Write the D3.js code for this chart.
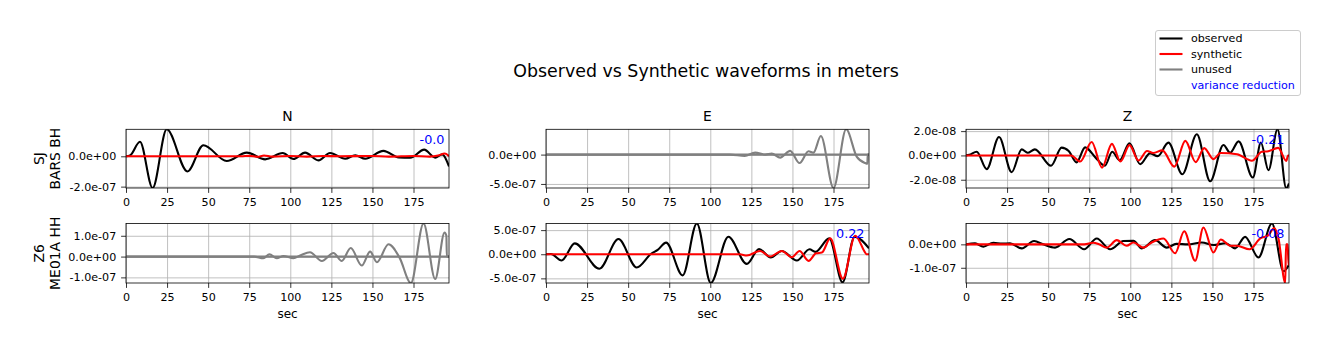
<!DOCTYPE html>
<html><head><meta charset="utf-8">
<script src="https://cdn.jsdelivr.net/npm/d3@7"></script>
<style>body{margin:0;background:#fff;} text{font-family:"DejaVu Sans",sans-serif;}</style>
</head><body><svg id="c" width="1329" height="351"></svg>
<script>
// ---------------- data ----------------
const T_END = 196.6;
const components = ["N", "E", "Z"];
const stations = [["SJ", "BARS BH"], ["Z6", "ME01A HH"]];
const xTicks = [0, 25, 50, 75, 100, 125, 150, 175];
const yTicksTop = [[-2e-7, 0], [-5e-7, 0], [-2e-8, 0, 2e-8]];
const yTicksBottom = [[-1e-7, 0, 1e-7], [-5e-7, 0, 5e-7], [-1e-7, 0]];
const varianceReduction = [["-0.0", null, "-0.21"], [null, "0.22", "-0.08"]];
const usedFlags = [[true, false, true], [false, true, true]];
const legendLabels = ["observed", "synthetic", "unused", "variance reduction"];

// SJ BARS BH
const obs_BARS_N = [[0,0],[2.4,0.05e-7],[8.5,0.96e-7],[16.2,-2.09e-7],[24.8,1.78e-7],[37.4,-1.0e-7],[47.1,0.73e-7],[61.3,-0.31e-7],[73.5,0.24e-7],[84.7,-0.2e-7],[95.4,0.22e-7],[101.9,-0.18e-7],[109,0.24e-7],[117.1,-0.27e-7],[124.2,0.22e-7],[133.4,-0.16e-7],[139.5,0.07e-7],[145.6,-0.16e-7],[156.7,0.36e-7],[166,-0.08e-7],[173,-0.1e-7],[181.5,0.44e-7],[188.2,-0.09e-7],[192.5,0.13e-7],[196.6,-0.67e-7]];
const syn_BARS_N = [[0,0],[70,0],[75,0.03e-7],[80,-0.03e-7],[84,0.05e-7],[89,-0.02e-7],[100,0.02e-7],[110,-0.02e-7],[120,0.02e-7],[130,0],[150,0.02e-7],[160,-0.02e-7],[175,0.02e-7],[185,-0.02e-7],[190,0.05e-7],[194,0.18e-7],[196.6,0]];
const obs_BARS_E = [[0,0],[112,0],[121,-0.23e-7],[127.3,0.34e-7],[133.4,0],[137.4,0.17e-7],[142.5,-0.52e-7],[148.6,0.63e-7],[154.3,-1.44e-7],[159.8,0.57e-7],[162.8,0.34e-7],[167.3,3.16e-7],[175,-5.69e-7],[182.7,4.31e-7],[189.2,-0.4e-7],[194.3,-1.44e-7],[195.6,-1.55e-7],[195.8,0],[196.6,0]];
const syn_BARS_E = [[0,0],[196.6,0]];
const obs_BARS_Z = [[0,0],[2,0.05e-8],[6.5,0.3e-8],[12.6,-1.13e-8],[20.1,1.52e-8],[27.8,-1.38e-8],[33.9,0.5e-8],[37.5,0.22e-8],[41.9,0.5e-8],[51.8,-0.85e-8],[58.2,0.64e-8],[62.5,0.36e-8],[67.3,-0.57e-8],[72.5,0.66e-8],[79,-0.2e-8],[84.5,-0.85e-8],[89,0.3e-8],[93.5,-0.4e-8],[99.5,1.0e-8],[106,-0.72e-8],[112,0.17e-8],[116.7,-0.06e-8],[123.2,1.05e-8],[131.7,-1.55e-8],[140.5,1.74e-8],[148.6,-2.13e-8],[156.7,0.86e-8],[160.8,0.22e-8],[165.9,1.16e-8],[174.6,-1.82e-8],[179.5,1.05e-8],[184.1,-1.22e-8],[189.6,2.15e-8],[194.9,-2.68e-8],[196.6,-2.3e-8]];
const syn_BARS_Z = [[0,0],[64,0],[69.5,-0.5e-8],[76.5,1.1e-8],[82.8,-1.0e-8],[88.8,0.95e-8],[94,-0.5e-8],[99.5,0.85e-8],[105,-0.42e-8],[110.2,0.36e-8],[114,0.2e-8],[119.5,0.42e-8],[126.8,-0.92e-8],[133.5,1.2e-8],[139.8,-0.55e-8],[145,0.6e-8],[150.5,-0.3e-8],[155,0.2e-8],[165,0.1e-8],[174,-0.44e-8],[180,0.3e-8],[184,0.35e-8],[190,0.62e-8],[195,-0.45e-8],[196,0],[196.6,0]];

// Z6 ME01A HH
const obs_ME01A_N = [[0,0],[78,0],[83.6,-0.08e-7],[87.3,0.11e-7],[91.8,-0.08e-7],[95.8,0.03e-7],[101.9,-0.08e-7],[106,0.05e-7],[112,0.21e-7],[119.2,-0.21e-7],[126.3,0.17e-7],[131.3,-0.21e-7],[136.8,0.41e-7],[143.5,-0.43e-7],[148.6,0.24e-7],[152.7,-0.27e-7],[159.8,0.59e-7],[166.5,-0.05e-7],[173.4,-1.27e-7],[181.1,1.59e-7],[188.2,-1.08e-7],[193.9,1.16e-7],[195,1.0e-7],[195.3,0],[196.6,0]];
const syn_ME01A_N = [[0,0],[196.6,0]];
const obs_ME01A_E = [[0,0],[3,0.05e-7],[9.5,-1.3e-7],[17.5,2.26e-7],[32.5,-3.0e-7],[44.1,3.15e-7],[55.2,-2.74e-7],[64,0.1e-7],[68,0.9e-7],[73.1,2.4e-7],[83.2,-4.38e-7],[91.8,6.37e-7],[100.3,-5.96e-7],[111,3.63e-7],[122.2,-2.0e-7],[129.7,1.1e-7],[136.8,-0.68e-7],[143.5,0.68e-7],[152.7,-1.3e-7],[160.4,1.03e-7],[164,0.5e-7],[172.4,3.29e-7],[180.5,-5.82e-7],[187.8,3.63e-7],[196.6,1.23e-7]];
const syn_ME01A_E = [[0,0],[118,0],[122.2,-0.27e-7],[130.3,0.68e-7],[136.4,-0.48e-7],[143.5,0.68e-7],[149.6,-0.62e-7],[154.3,0.68e-7],[159.8,-1.37e-7],[164.4,0.2e-7],[167.9,0.34e-7],[173,3.29e-7],[180.7,-5.07e-7],[188.2,3.84e-7],[193.9,0.55e-7],[195,0],[196.6,0]];
const obs_ME01A_Z = [[0,0],[5.5,0.04e-7],[10.6,-0.1e-7],[16.6,0.07e-7],[22,0.03e-7],[26.8,0.04e-7],[33.9,-0.17e-7],[41.4,0.14e-7],[47,0],[54.2,-0.14e-7],[62.9,0.23e-7],[71.9,-0.21e-7],[79.6,0.25e-7],[87.7,-0.21e-7],[95.8,0.14e-7],[101.9,0.15e-7],[107,-0.17e-7],[115.1,0.18e-7],[122.2,-0.14e-7],[128,0.02e-7],[135,0],[143.5,0.08e-7],[150.6,-0.03e-7],[158,0.05e-7],[163.8,-0.17e-7],[169.9,0.32e-7],[178,-0.56e-7],[186.2,0.89e-7],[193.3,-1.15e-7],[196.6,-0.87e-7]];
const syn_ME01A_Z = [[0,0],[72,0],[77.5,0.07e-7],[81,0],[85.7,-0.14e-7],[91.8,0.18e-7],[97.8,-0.06e-7],[101.9,0.08e-7],[108,-0.14e-7],[113,0.08e-7],[120.2,0.25e-7],[127.3,-0.38e-7],[132.8,0.56e-7],[139.5,-0.7e-7],[144.5,0.72e-7],[150.6,-0.35e-7],[155.1,0.21e-7],[160.8,-0.06e-7],[164.8,-0.06e-7],[172.6,-0.21e-7],[179.1,0.25e-7],[184.1,0.39e-7],[187.6,0.7e-7],[190.2,0.25e-7],[194.3,-1.65e-7],[194.8,0],[195.8,0],[196.3,-0.87e-7],[196.6,-0.87e-7]];

const observed = [[obs_BARS_N, obs_BARS_E, obs_BARS_Z], [obs_ME01A_N, obs_ME01A_E, obs_ME01A_Z]];
const synthetic = [[syn_BARS_N, syn_BARS_E, syn_BARS_Z], [syn_ME01A_N, syn_ME01A_E, syn_ME01A_Z]];
const yTicks = [yTicksTop, yTicksBottom];

// ---------------- layout ----------------
const svg = d3.select("#c");
const colLeft = [126, 546, 966];
const panelW = 323;
const rowTop = [129.3, 223.5];
const panelH = [58.7, 59.5];
const C_OBS = "#000000", C_SYN = "#ff0000", C_UNUSED = "#808080", C_VR = "#0000ff";
const tickFont = 11.1;

function fmt(v) {
  const s = v.toExponential(1);
  return s.replace(/e([+-])(\d)$/, "e$10$2");
}

svg.append("text").attr("x", 706).attr("y", 77).attr("text-anchor", "middle")
  .attr("font-size", 17.4).attr("fill", "#000").text("Observed vs Synthetic waveforms in meters");

const defs = svg.append("defs");

stations.forEach((st, r) => {
  components.forEach((comp, c) => {
    const w = panelW, h = panelH[r];
    const g = svg.append("g").attr("transform", `translate(${colLeft[c]},${rowTop[r]})`);
    const obs = observed[r][c], syn = synthetic[r][c];
    const ext = d3.extent(obs.concat(syn), d => d[1]);
    const x = d3.scaleLinear().domain([0, T_END]).range([0, w]);
    const y = d3.scaleLinear().domain(ext).range([h, 0]);

    // grid
    const gx = g.append("g").attr("transform", `translate(0,${h})`)
      .call(d3.axisBottom(x).tickValues(xTicks).tickSize(-h).tickSizeOuter(0).tickFormat(""));
    gx.select(".domain").remove();
    gx.selectAll("line").attr("stroke", "#b0b0b0").attr("stroke-width", 0.8);
    const gy = g.append("g")
      .call(d3.axisLeft(y).tickValues(yTicks[r][c]).tickSize(-w).tickSizeOuter(0).tickFormat(""));
    gy.select(".domain").remove();
    gy.selectAll("line").attr("stroke", "#b0b0b0").attr("stroke-width", 0.8);

    const cid = `clip${r}${c}`;
    defs.append("clipPath").attr("id", cid).append("rect").attr("width", w).attr("height", h);
    const line = d3.line().x(d => x(d[0])).y(d => y(d[1])).curve(d3.curveMonotoneX);
    const used = usedFlags[r][c];
    const lg = g.append("g").attr("clip-path", `url(#${cid})`);
    lg.append("path").attr("d", line(obs)).attr("fill", "none")
      .attr("stroke", used ? C_OBS : C_UNUSED).attr("stroke-width", 2.1).attr("stroke-linejoin", "round");
    lg.append("path").attr("d", line(syn)).attr("fill", "none")
      .attr("stroke", used ? C_SYN : C_UNUSED).attr("stroke-width", 2.1).attr("stroke-linejoin", "round");

    // axes
    const ax = g.append("g").attr("transform", `translate(0,${h})`)
      .call(d3.axisBottom(x).tickValues(xTicks).tickSize(4.9).tickPadding(4.9).tickSizeOuter(0).tickFormat(d3.format("d")));
    ax.select(".domain").remove();
    ax.selectAll("line").attr("stroke", "#000").attr("stroke-width", 0.8);
    ax.selectAll("text").attr("font-size", tickFont).attr("font-family", "DejaVu Sans").attr("fill", "#000");
    const ay = g.append("g")
      .call(d3.axisLeft(y).tickValues(yTicks[r][c]).tickSize(4.9).tickPadding(4.9).tickSizeOuter(0).tickFormat(fmt));
    ay.select(".domain").remove();
    ay.selectAll("line").attr("stroke", "#000").attr("stroke-width", 0.8);
    ay.selectAll("text").attr("font-size", tickFont).attr("font-family", "DejaVu Sans").attr("fill", "#000");

    g.append("rect").attr("width", w).attr("height", h).attr("fill", "none")
      .attr("stroke", "#000").attr("stroke-width", 0.8);

    if (r === 0) {
      g.append("text").attr("x", w / 2).attr("y", -8.3).attr("text-anchor", "middle")
        .attr("font-size", 13.9).attr("fill", "#000").text(comp);
    }
    if (r === stations.length - 1) {
      g.append("text").attr("x", w / 2).attr("y", h + 34.5).attr("text-anchor", "middle")
        .attr("font-size", 12).attr("fill", "#000").text("sec");
    }
    const vr = varianceReduction[r][c];
    if (vr !== null) {
      g.append("text").attr("x", w - 4.5).attr("y", 14.5).attr("text-anchor", "end")
        .attr("font-size", 12.8).attr("fill", C_VR).text(vr);
    }
    if (c === 0) {
      const cy = rowTop[r] + h / 2;
      st.forEach((s, i) => {
        svg.append("text").attr("transform", `translate(${44 + i * 16},${cy}) rotate(-90)`)
          .attr("text-anchor", "middle").attr("font-size", 13.9).attr("fill", "#000").text(s);
      });
    }
  });
});

// legend
const leg = svg.append("g").attr("transform", "translate(1155.5,30.5)");
leg.append("rect").attr("width", 145).attr("height", 65).attr("rx", 2.5).attr("fill", "#fff")
  .attr("stroke", "#cccccc").attr("stroke-width", 1);
const legColors = [C_OBS, C_SYN, C_UNUSED, null];
legendLabels.forEach((lab, i) => {
  const yy = 8 + i * 15.5;
  if (legColors[i]) {
    leg.append("line").attr("x1", 4).attr("x2", 27).attr("y1", yy).attr("y2", yy)
      .attr("stroke", legColors[i]).attr("stroke-width", 2.1);
  }
  leg.append("text").attr("x", 35.5).attr("y", yy + 3.9).attr("font-size", 11.1)
    .attr("fill", legColors[i] ? "#000" : C_VR).text(lab);
});
</script></body></html>
